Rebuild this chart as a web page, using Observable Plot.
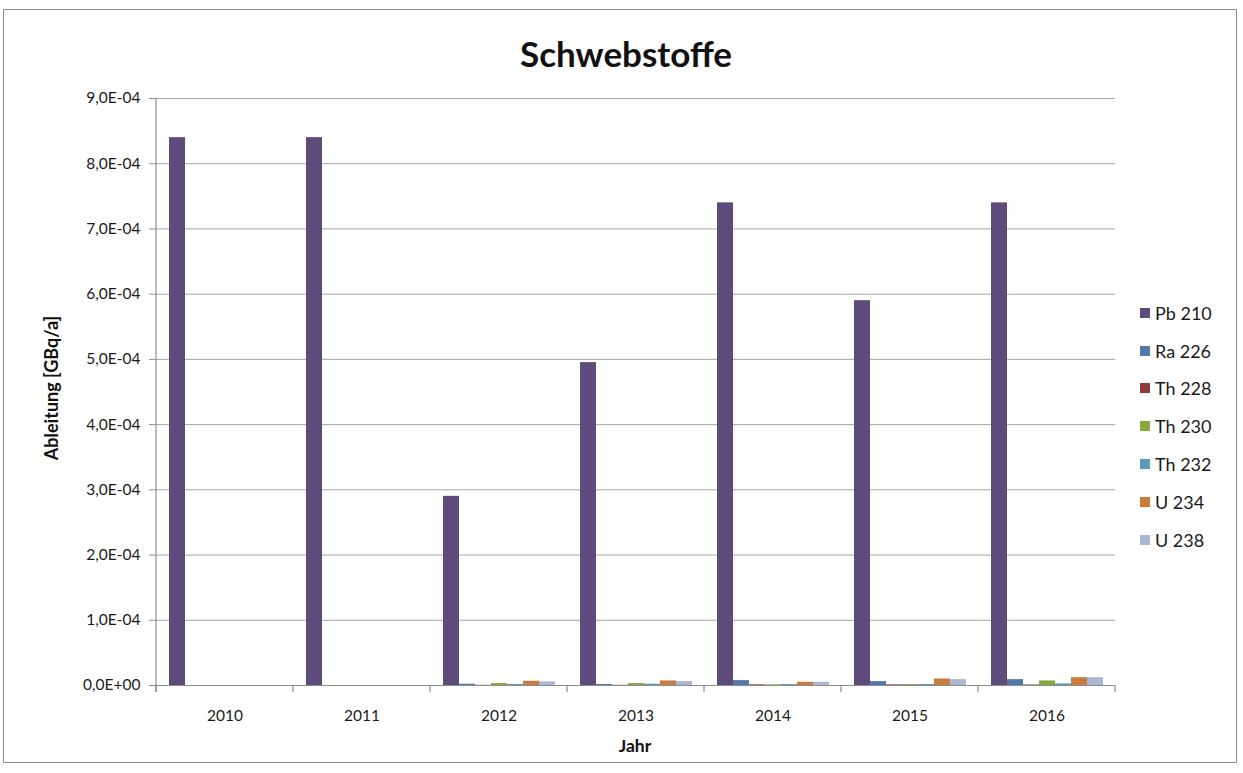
<!DOCTYPE html>
<html>
<head>
<meta charset="utf-8">
<script src="https://cdn.jsdelivr.net/npm/d3@7"></script>
<script src="https://cdn.jsdelivr.net/npm/@observablehq/plot@0.6"></script>
<style>
  body { margin: 0; background: #ffffff; font-family: Lato, "Open Sans", sans-serif; }
  #wrap { position: relative; width: 1243px; height: 773px; overflow: hidden; }
  #frame { position: absolute; left: 3px; top: 9px; width: 1234px; height: 754px; border: 1.5px solid #8c8c8c; box-sizing: border-box; }
  #chart { position: absolute; left: 0; top: 0; }
  #chart svg text { fill: #1a1a1a; }
  .title { position: absolute; left: 0; width: 1252px; top: 33px; text-align: center; font-weight: bold; font-size: 35px; line-height: 40px; color: #111; }
  .ylab { position: absolute; left: 51px; top: 388px; transform: translate(-50%, -50%) rotate(-90deg); font-weight: bold; font-size: 18px; white-space: nowrap; color: #111; }
  .xlab { position: absolute; left: 635px; top: 745px; transform: translate(-50%, -50%); font-weight: bold; font-size: 17.5px; color: #111; }
  .legend { position: absolute; left: 1140px; top: 294px; }
  .legend .item { height: 37.8px; display: flex; align-items: center; font-size: 18px; color: #1a1a1a; }
  .legend .sw { width: 10px; height: 10px; margin-right: 5px; }
</style>
</head>
<body>
<div id="wrap">
  <div id="frame"></div>
  <div id="chart"></div>
  <div class="title" id="title"></div>
  <div class="ylab" id="ylab"></div>
  <div class="xlab" id="xlab"></div>
  <div class="legend" id="legend"></div>
</div>
<script>
const titleText = "Schwebstoffe";
const yLabel = "Ableitung [GBq/a]";
const xLabel = "Jahr";

const years = ["2010", "2011", "2012", "2013", "2014", "2015", "2016"];
const nuclides = ["Pb 210", "Ra 226", "Th 228", "Th 230", "Th 232", "U 234", "U 238"];
const colors = ["#5d4b7b", "#5479ab", "#8e3a38", "#86a83c", "#5a9bb8", "#c97c3c", "#a9b7d2"];

const pb210 = [8.4e-4, 8.4e-4, 2.9e-4, 4.95e-4, 7.4e-4, 5.9e-4, 7.4e-4];
const ra226 = [0, 0, 2.0e-6, 1.5e-6, 7.5e-6, 6.0e-6, 9.0e-6];
const th228 = [0, 0, 0.3e-6, 0.3e-6, 1.0e-6, 1.0e-6, 0.8e-6];
const th230 = [0, 0, 3.0e-6, 3.0e-6, 1.0e-6, 1.5e-6, 7.0e-6];
const th232 = [0, 0, 1.5e-6, 2.0e-6, 1.5e-6, 1.5e-6, 2.5e-6];
const u234  = [0, 0, 6.5e-6, 7.0e-6, 5.0e-6, 1.0e-5, 1.2e-5];
const u238  = [0, 0, 5.5e-6, 6.0e-6, 5.0e-6, 9.0e-6, 1.2e-5];

const yTicks = [0, 1e-4, 2e-4, 3e-4, 4e-4, 5e-4, 6e-4, 7e-4, 8e-4, 9e-4];

const series = [pb210, ra226, th228, th230, th232, u234, u238];
const data = years.flatMap((yr, i) => nuclides.map((n, j) => ({ year: yr, nuclide: n, value: series[j][i] })));

function fmt(d) {
  const [m, e] = Number(d).toExponential(1).split("e");
  const ev = parseInt(e, 10);
  const sign = ev < 0 ? "-" : "+";
  return m.replace(".", ",") + "E" + sign + String(Math.abs(ev)).padStart(2, "0");
}

const chart = Plot.plot({
  width: 1243,
  height: 773,
  marginLeft: 155,
  marginRight: 128,
  marginTop: 98,
  marginBottom: 88,
  style: { fontFamily: "Lato, 'Open Sans', sans-serif", fontSize: "15.5px", color: "#8c8c8c", background: "transparent" },
  fx: { domain: years, padding: 0, label: null, tickSize: 0, tickPadding: 24 },
  x: { domain: nuclides, paddingInner: 0, paddingOuter: 0.78, axis: null },
  y: { domain: [0, 9e-4], ticks: yTicks, tickFormat: fmt, tickSize: 7, tickPadding: 9, label: null },
  color: { domain: nuclides, range: colors },
  marks: [
    Plot.ruleY(yTicks, { stroke: "#a6a6a6", strokeWidth: 1 }),
    Plot.barY(data, { fx: "year", x: "nuclide", y: "value", fill: "nuclide" }),
    Plot.ruleY([0], { stroke: "#8c8c8c", strokeWidth: 1.2 })
  ]
});

document.getElementById("chart").appendChild(chart);

// Excel-style category boundary ticks and the vertical value axis line, placed through Plot's scales
const fx = chart.scale("fx");
const y = chart.scale("y");
const y0 = y.apply(0);
const yTop = y.apply(yTicks[yTicks.length - 1]);
const edges = years.map(yr => fx.apply(yr));
edges.push(fx.apply(years[years.length - 1]) + fx.bandwidth);
const svg = d3.select(chart);
const g = svg.append("g").attr("stroke", "#8c8c8c").attr("stroke-width", 1.2);
g.selectAll("line.b").data(edges).join("line")
  .attr("x1", d => d).attr("x2", d => d).attr("y1", y0).attr("y2", y0 + 7);
g.append("line").attr("x1", edges[0]).attr("x2", edges[0]).attr("y1", yTop).attr("y2", y0 + 7);

document.getElementById("title").textContent = titleText;
document.getElementById("ylab").textContent = yLabel;
document.getElementById("xlab").textContent = xLabel;

const legend = document.getElementById("legend");
nuclides.forEach((n, i) => {
  const item = document.createElement("div");
  item.className = "item";
  const sw = document.createElement("span");
  sw.className = "sw";
  sw.style.background = colors[i];
  const t = document.createElement("span");
  t.textContent = n;
  item.appendChild(sw);
  item.appendChild(t);
  legend.appendChild(item);
});
</script>
</body>
</html>
